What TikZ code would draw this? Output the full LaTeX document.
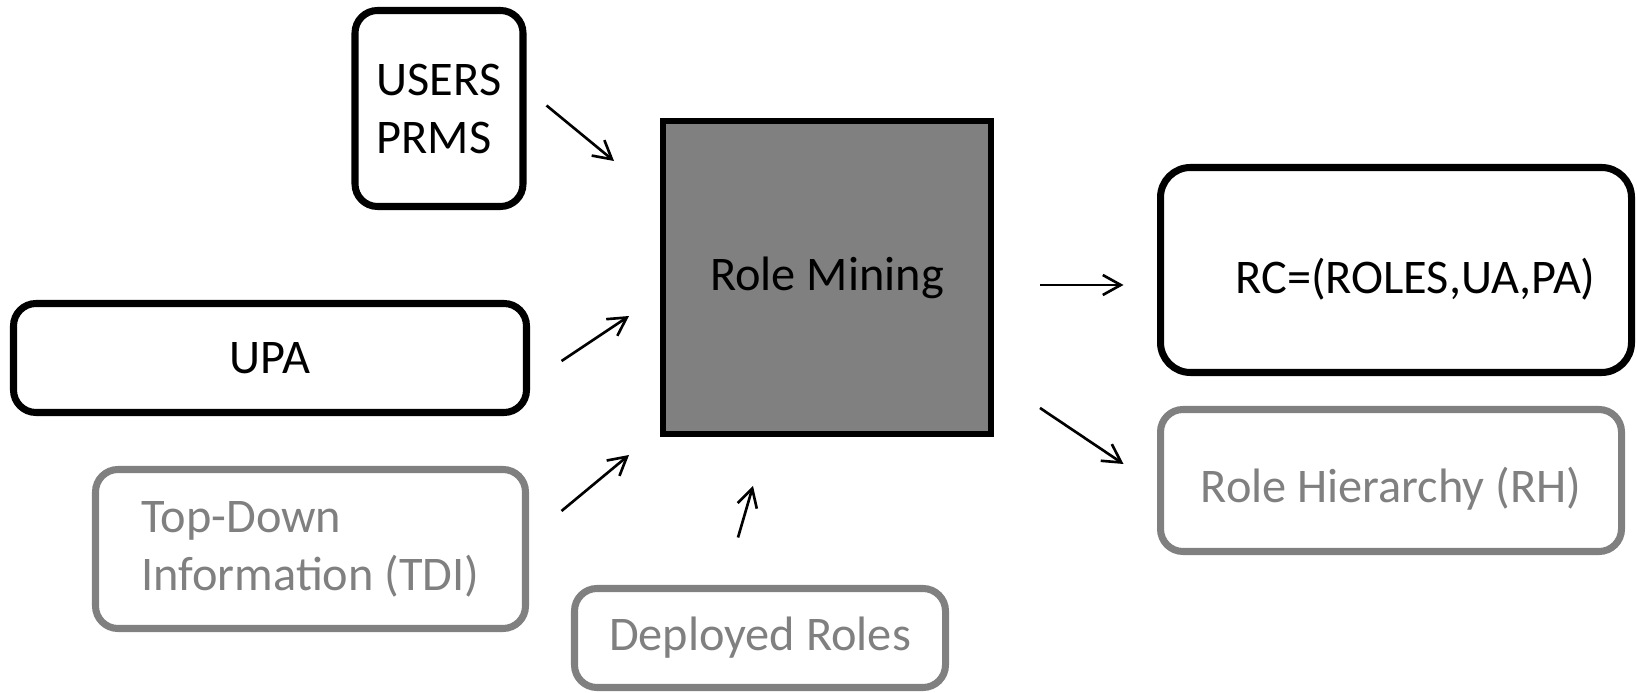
\documentclass[tikz,border=0pt]{standalone}
\usepackage{fontspec}
\setmainfont{Carlito}
\usetikzlibrary{arrows.meta}

\definecolor{boxgray}{RGB}{128,128,128}

\tikzset{
  blackbox/.style={draw=black, line width=4pt, rounded corners=0.45cm, fill=white,
    font=\fontsize{27.5}{33}\selectfont},
  greybox/.style={draw=boxgray, line width=4pt, rounded corners=0.45cm, fill=white,
    text=boxgray, font=\fontsize{27.5}{33}\selectfont},
  flow/.style={line width=1.5pt, -{Straight Barb[length=3.6mm,width=4mm]}}
}

\begin{document}
\begin{tikzpicture}
\useasboundingbox (0,0) rectangle (32.74,13.86);

% inputs
\node[blackbox, minimum width=3.36cm, minimum height=3.92cm, align=left] (users) at (8.78,11.69) {USERS\\PRMS};
\node[blackbox, minimum width=10.26cm, minimum height=2.18cm] (upa) at (5.40,6.70) {UPA};
\node[greybox, minimum width=8.60cm, minimum height=3.18cm, align=left] (tdi) at (6.21,2.88) {Top-Down\\Information (TDI)};
\node[greybox, minimum width=7.42cm, minimum height=1.98cm] (dep) at (15.20,1.10) {Deployed Roles};

% the mining step
\node[draw=black, line width=3.4pt, fill=boxgray, minimum width=6.56cm, minimum height=6.26cm,
  font=\fontsize{27.5}{33}\selectfont] (rm) at (16.54,8.31) {Role Mining};

% outputs
\node[blackbox, rounded corners=0.6cm, minimum width=9.42cm, minimum height=4.10cm,
  text height=32pt, text depth=5pt] (rc) at (27.92,8.46) {\hspace*{0.78cm}RC=(ROLES,UA,PA)};
\node[greybox, minimum width=9.22cm, minimum height=2.84cm,
  text height=30pt, text depth=5pt] (rh) at (27.82,4.25) {Role Hierarchy (RH)};

% arrows
\draw[flow] ([xshift=0.40cm,yshift=0.06cm]users.east) -- ([xshift=-0.92cm,yshift=-0.86cm]rm.north west);
\draw[flow] ([xshift=0.63cm,yshift=-0.06cm]upa.east) -- ([xshift=-0.62cm,yshift=-0.77cm]rm.west);
\draw[flow] ([xshift=0.65cm,yshift=0.76cm]tdi.east) -- ([xshift=-0.62cm,yshift=-0.36cm]rm.south west);
\draw[flow] ([xshift=-0.44cm,yshift=0.95cm]dep.north) -- ([xshift=-1.48cm,yshift=-0.98cm]rm.south);
\draw[flow] ([xshift=0.92cm,yshift=-0.15cm]rm.east) -- ([xshift=-0.67cm,yshift=-0.30cm]rc.west);
\draw[flow] ([xshift=0.92cm,yshift=0.58cm]rm.south east) -- ([xshift=-0.67cm,yshift=0.33cm]rh.west);

\end{tikzpicture}
\end{document}
